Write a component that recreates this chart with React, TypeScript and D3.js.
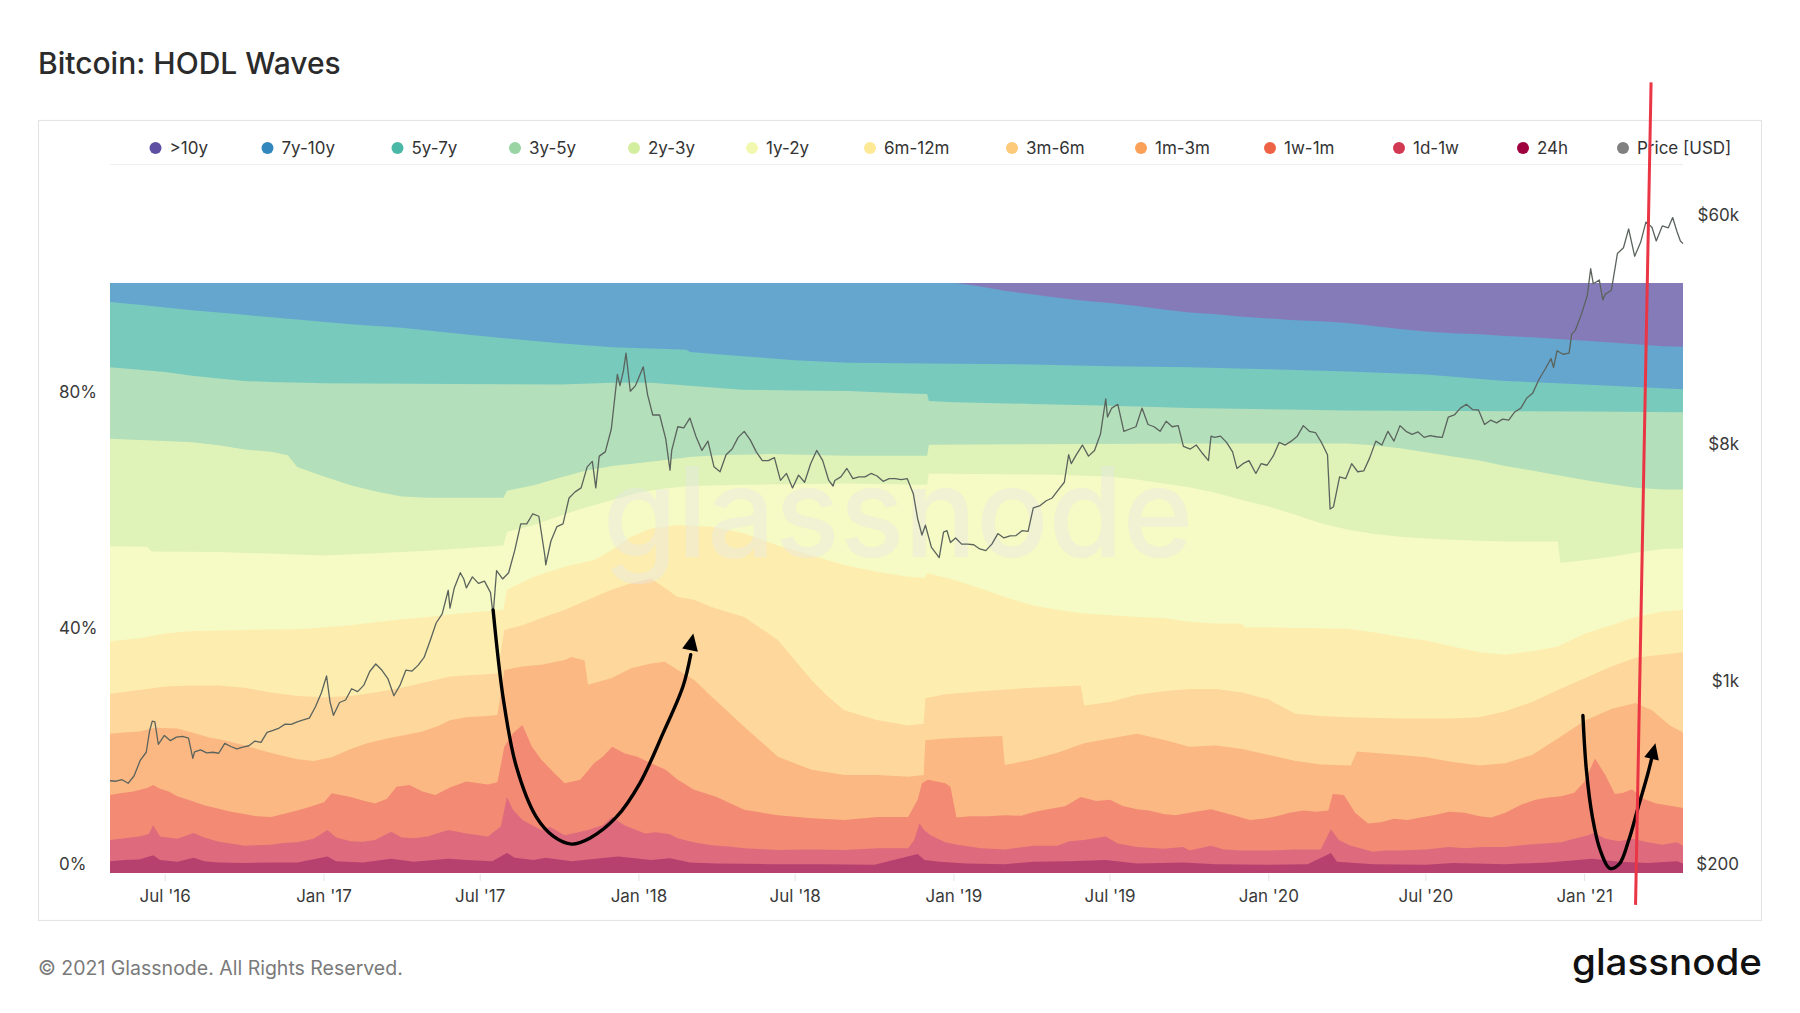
import React from "react";
import * as d3 from "d3";

type Pt = [string, number];

// ---------- DATA ----------
const categories = [">10y", "7y-10y", "5y-7y", "3y-5y", "2y-3y", "1y-2y", "6m-12m", "3m-6m", "1m-3m", "1w-1m", "1d-1w", "24h"];
const seriesColors = ["#5e4fa2", "#3288bd", "#4bb8a7", "#99d4a4", "#d4ee9f", "#f3f8b0", "#fce895", "#fcca7a", "#faa058", "#ee6346", "#d33853", "#9e023f"];
const priceName = "Price [USD]";
const priceColor = "#808080";

// upper edge (cumulative supply share, %) of each age band
const edge10y: Pt[] = [["2016-04-28", 100], ["2021-04-25", 100]];

const edge7y10y: Pt[] = [["2016-04-28", 100], ["2019-01-03", 100], ["2019-02-01", 99.4], ["2019-03-01", 98.7], ["2019-04-01", 98.1], ["2019-05-01", 97.5], ["2019-06-01", 97.0], ["2019-07-01", 96.6], ["2019-08-01", 96.1], ["2019-09-01", 95.5], ["2019-10-01", 95.0], ["2019-11-01", 94.7], ["2019-12-01", 94.3], ["2020-01-01", 94.0], ["2020-02-01", 93.7], ["2020-03-01", 93.5], ["2020-04-01", 93.2], ["2020-05-01", 92.7], ["2020-06-01", 92.2], ["2020-07-01", 91.8], ["2020-08-01", 91.5], ["2020-09-01", 91.3], ["2020-10-01", 91.0], ["2020-11-01", 90.8], ["2020-12-01", 90.5], ["2021-01-01", 90.2], ["2021-02-01", 89.9], ["2021-03-01", 89.6], ["2021-04-01", 89.3], ["2021-04-25", 89.2]];

const edge5y7y: Pt[] = [["2016-04-28", 96.8], ["2016-06-01", 96.3], ["2016-08-01", 95.4], ["2016-10-01", 94.6], ["2016-12-01", 93.8], ["2017-02-01", 93.0], ["2017-04-01", 92.4], ["2017-06-01", 91.5], ["2017-08-01", 90.6], ["2017-10-01", 89.8], ["2017-12-01", 89.1], ["2018-02-01", 88.8], ["2018-02-25", 88.7], ["2018-03-01", 88.3], ["2018-05-01", 87.6], ["2018-07-01", 86.9], ["2018-09-01", 86.5], ["2018-11-01", 86.4], ["2019-01-01", 86.3], ["2019-04-01", 86.2], ["2019-07-01", 85.9], ["2019-10-01", 85.7], ["2020-01-01", 85.4], ["2020-04-01", 85.0], ["2020-07-01", 84.5], ["2020-10-01", 83.4], ["2021-01-01", 82.8], ["2021-04-25", 82.0]];

const edge3y5y: Pt[] = [["2016-04-28", 85.7], ["2016-06-01", 85.3], ["2016-07-01", 84.9], ["2016-08-01", 84.3], ["2016-09-01", 83.8], ["2016-10-01", 83.4], ["2016-11-01", 83.2], ["2017-01-01", 83.0], ["2017-06-01", 82.9], ["2017-10-01", 82.8], ["2017-12-01", 83.1], ["2018-01-15", 83.1], ["2018-03-01", 82.6], ["2018-05-01", 81.9], ["2018-07-01", 81.8], ["2018-09-01", 81.7], ["2018-11-01", 81.3], ["2018-12-01", 81.2], ["2018-12-03", 80.0], ["2019-01-01", 79.8], ["2019-04-01", 79.5], ["2019-07-01", 79.2], ["2019-10-01", 78.8], ["2020-01-01", 78.6], ["2020-04-01", 78.4], ["2020-08-01", 78.3], ["2021-01-01", 78.2], ["2021-04-25", 78.1]];

const edge2y3y: Pt[] = [["2016-04-28", 73.6], ["2016-06-01", 73.4], ["2016-07-01", 73.2], ["2016-08-01", 73.0], ["2016-09-01", 72.5], ["2016-10-01", 71.8], ["2016-11-01", 71.4], ["2016-11-20", 70.8], ["2016-12-01", 68.8], ["2017-01-01", 67.2], ["2017-02-01", 65.7], ["2017-03-01", 64.7], ["2017-04-01", 63.8], ["2017-05-01", 63.6], ["2017-07-28", 63.6], ["2017-08-01", 64.8], ["2017-09-01", 65.7], ["2017-10-01", 67.0], ["2017-11-01", 68.2], ["2017-12-01", 69.0], ["2018-01-01", 69.5], ["2018-02-01", 70.0], ["2018-03-01", 70.5], ["2018-04-01", 70.8], ["2018-06-01", 71.0], ["2018-09-01", 70.7], ["2018-12-01", 70.7], ["2018-12-03", 72.6], ["2019-06-01", 72.7], ["2019-10-01", 72.8], ["2020-04-01", 72.8], ["2020-05-01", 72.5], ["2020-06-01", 72.0], ["2020-07-01", 71.3], ["2020-08-01", 70.6], ["2020-09-01", 69.9], ["2020-10-01", 69.0], ["2020-11-01", 68.2], ["2020-12-01", 67.4], ["2021-01-01", 66.6], ["2021-02-01", 65.9], ["2021-03-01", 65.3], ["2021-04-01", 65.0], ["2021-04-25", 65.0]];

const edge1y2y: Pt[] = [["2016-04-28", 55.4], ["2016-06-10", 55.3], ["2016-06-15", 54.5], ["2016-09-01", 54.4], ["2016-12-01", 54.0], ["2017-01-01", 53.8], ["2017-03-01", 54.2], ["2017-05-01", 54.6], ["2017-07-28", 55.5], ["2017-08-01", 57.8], ["2017-09-01", 59.0], ["2017-10-01", 60.5], ["2017-11-01", 62.0], ["2017-12-01", 63.2], ["2018-01-01", 64.5], ["2018-02-01", 65.2], ["2018-03-01", 65.6], ["2018-05-01", 65.8], ["2018-09-01", 66.0], ["2018-12-01", 65.8], ["2018-12-03", 67.7], ["2019-03-01", 67.6], ["2019-05-01", 67.5], ["2019-07-01", 67.2], ["2019-08-01", 66.7], ["2019-09-01", 66.0], ["2019-10-01", 65.4], ["2019-11-01", 64.4], ["2019-12-01", 63.2], ["2020-01-01", 62.1], ["2020-02-01", 60.7], ["2020-03-01", 59.3], ["2020-04-01", 58.2], ["2020-05-01", 57.5], ["2020-06-01", 57.0], ["2020-07-01", 56.7], ["2020-08-01", 56.5], ["2020-09-01", 56.3], ["2020-10-01", 56.2], ["2020-12-01", 56.2], ["2020-12-04", 52.6], ["2021-01-01", 53.0], ["2021-02-01", 53.6], ["2021-03-01", 54.3], ["2021-04-01", 54.9], ["2021-04-25", 55.0]];

const edge6m12m: Pt[] = [["2016-04-28", 39.3], ["2016-06-01", 39.8], ["2016-07-01", 40.6], ["2016-08-01", 41.0], ["2016-10-01", 41.2], ["2016-12-01", 41.3], ["2017-01-01", 41.6], ["2017-02-01", 42.0], ["2017-03-01", 42.5], ["2017-04-01", 43.0], ["2017-05-01", 43.4], ["2017-06-01", 43.9], ["2017-07-01", 44.3], ["2017-07-28", 44.6], ["2017-08-01", 48.0], ["2017-09-01", 50.2], ["2017-10-07", 51.9], ["2017-11-11", 53.1], ["2017-11-30", 54.7], ["2017-12-23", 57.0], ["2018-01-15", 58.4], ["2018-02-15", 59.0], ["2018-03-26", 58.7], ["2018-05-03", 57.6], ["2018-06-11", 55.5], ["2018-07-20", 53.8], ["2018-08-01", 53.3], ["2018-08-27", 52.2], ["2018-10-05", 51.0], ["2018-11-09", 50.2], ["2018-11-28", 50.0], ["2018-12-01", 50.8], ["2019-01-01", 49.7], ["2019-02-01", 48.2], ["2019-03-01", 46.8], ["2019-04-01", 45.4], ["2019-05-01", 44.6], ["2019-06-01", 44.0], ["2019-07-01", 43.7], ["2019-08-01", 43.4], ["2019-09-01", 43.2], ["2019-10-01", 42.6], ["2019-11-01", 42.3], ["2019-12-01", 42.3], ["2019-12-04", 41.6], ["2020-01-01", 41.6], ["2020-04-01", 41.4], ["2020-05-01", 40.8], ["2020-06-01", 40.0], ["2020-07-01", 39.4], ["2020-08-01", 38.4], ["2020-09-01", 37.4], ["2020-10-01", 37.0], ["2020-11-01", 37.6], ["2020-12-01", 38.4], ["2021-01-01", 40.6], ["2021-02-01", 42.0], ["2021-03-01", 43.4], ["2021-04-01", 44.3], ["2021-04-25", 44.6]];

const edge3m6m: Pt[] = [["2016-04-28", 30.4], ["2016-06-01", 31.0], ["2016-07-01", 31.6], ["2016-08-01", 31.8], ["2016-09-01", 31.8], ["2016-10-01", 31.4], ["2016-11-01", 30.6], ["2016-12-01", 30.0], ["2017-01-01", 29.8], ["2017-02-01", 30.0], ["2017-03-01", 30.6], ["2017-04-01", 31.4], ["2017-05-01", 32.4], ["2017-05-27", 33.3], ["2017-07-21", 33.8], ["2017-07-29", 41.2], ["2017-08-19", 42.0], ["2017-09-10", 43.2], ["2017-10-07", 44.6], ["2017-11-03", 46.3], ["2017-11-30", 48.0], ["2017-12-23", 49.1], ["2018-01-15", 49.9], ["2018-01-31", 48.3], ["2018-02-15", 46.8], ["2018-03-06", 46.3], ["2018-03-26", 45.1], ["2018-05-03", 43.4], ["2018-06-11", 39.5], ["2018-07-20", 32.7], ["2018-08-08", 29.9], ["2018-08-27", 27.6], ["2018-10-05", 25.9], ["2018-11-09", 25.0], ["2018-11-27", 25.3], ["2018-11-29", 29.6], ["2018-12-22", 30.3], ["2019-02-01", 30.8], ["2019-04-01", 31.4], ["2019-05-28", 31.8], ["2019-06-01", 28.4], ["2019-07-01", 29.0], ["2019-08-01", 30.2], ["2019-09-01", 30.8], ["2019-10-01", 31.2], ["2019-11-01", 31.2], ["2019-12-01", 30.6], ["2020-01-01", 29.4], ["2020-02-01", 27.0], ["2020-03-01", 26.6], ["2020-04-01", 26.4], ["2020-06-01", 26.2], ["2020-08-01", 26.2], ["2020-09-01", 26.4], ["2020-10-01", 27.4], ["2020-11-01", 29.0], ["2020-12-01", 31.0], ["2021-01-01", 33.0], ["2021-02-01", 35.0], ["2021-03-01", 36.5], ["2021-04-25", 37.4]];

const edge1m3m: Pt[] = [["2016-04-28", 23.6], ["2016-05-15", 23.8], ["2016-06-01", 24.0], ["2016-06-20", 24.6], ["2016-07-15", 24.5], ["2016-08-01", 23.8], ["2016-08-20", 23.0], ["2016-09-10", 22.4], ["2016-10-01", 21.6], ["2016-10-20", 20.8], ["2016-11-10", 20.0], ["2016-12-01", 19.3], ["2016-12-20", 19.0], ["2017-01-10", 19.6], ["2017-02-01", 21.0], ["2017-02-20", 22.0], ["2017-03-15", 22.8], ["2017-04-05", 23.4], ["2017-04-25", 24.0], ["2017-05-15", 25.0], ["2017-05-27", 25.9], ["2017-06-15", 26.4], ["2017-07-10", 26.6], ["2017-07-21", 26.8], ["2017-07-29", 34.4], ["2017-08-19", 35.0], ["2017-09-10", 35.3], ["2017-10-07", 36.1], ["2017-10-15", 36.6], ["2017-10-30", 36.0], ["2017-11-03", 31.9], ["2017-11-30", 33.0], ["2017-12-23", 34.7], ["2018-01-15", 35.5], ["2018-01-31", 35.8], ["2018-02-15", 34.4], ["2018-03-06", 32.7], ["2018-03-26", 29.9], ["2018-05-03", 24.8], ["2018-06-11", 19.7], ["2018-07-20", 17.5], ["2018-08-27", 16.6], ["2018-10-05", 16.6], ["2018-11-09", 16.3], ["2018-11-27", 16.6], ["2018-11-29", 22.5], ["2018-12-22", 22.8], ["2019-01-20", 23.0], ["2019-02-26", 23.2], ["2019-03-01", 18.3], ["2019-04-01", 19.2], ["2019-05-01", 20.4], ["2019-06-01", 22.0], ["2019-07-01", 22.8], ["2019-08-01", 23.6], ["2019-09-01", 22.6], ["2019-10-01", 21.4], ["2019-11-01", 21.6], ["2019-12-01", 21.0], ["2020-01-01", 20.0], ["2020-02-01", 19.0], ["2020-03-01", 18.4], ["2020-04-05", 18.2], ["2020-04-12", 20.6], ["2020-06-01", 20.0], ["2020-07-01", 19.6], ["2020-08-01", 18.8], ["2020-09-01", 18.2], ["2020-10-01", 18.6], ["2020-11-01", 20.0], ["2020-12-01", 22.8], ["2021-01-01", 25.8], ["2021-02-01", 27.8], ["2021-03-01", 28.8], ["2021-03-20", 27.6], ["2021-04-10", 25.0], ["2021-04-25", 23.8]];

const edge1w1m: Pt[] = [["2016-04-28", 13.2], ["2016-05-10", 13.5], ["2016-05-25", 13.8], ["2016-06-10", 14.4], ["2016-06-17", 14.9], ["2016-06-25", 14.3], ["2016-07-05", 13.8], ["2016-07-15", 13.0], ["2016-08-01", 12.2], ["2016-08-15", 11.5], ["2016-09-01", 10.9], ["2016-09-15", 10.4], ["2016-10-01", 10.0], ["2016-10-15", 9.6], ["2016-11-01", 9.5], ["2016-11-15", 10.0], ["2016-12-01", 10.6], ["2016-12-15", 11.2], ["2017-01-01", 12.0], ["2017-01-10", 13.5], ["2017-01-20", 13.2], ["2017-02-01", 12.9], ["2017-02-15", 12.3], ["2017-03-01", 11.8], ["2017-03-15", 12.6], ["2017-03-26", 14.6], ["2017-04-10", 14.9], ["2017-04-25", 13.8], ["2017-05-10", 13.2], ["2017-05-27", 14.5], ["2017-06-15", 15.5], ["2017-07-10", 15.0], ["2017-07-21", 15.4], ["2017-07-29", 21.4], ["2017-08-08", 23.7], ["2017-08-19", 25.1], ["2017-08-30", 21.4], ["2017-09-10", 19.2], ["2017-09-25", 16.9], ["2017-10-07", 15.2], ["2017-10-25", 15.8], ["2017-11-10", 18.6], ["2017-11-20", 19.7], ["2017-12-01", 21.4], ["2017-12-15", 20.3], ["2017-12-30", 19.7], ["2018-01-15", 18.6], ["2018-02-01", 17.5], ["2018-02-15", 15.8], ["2018-03-06", 14.1], ["2018-04-01", 12.9], ["2018-05-03", 10.7], ["2018-06-11", 9.8], ["2018-07-20", 9.3], ["2018-08-27", 9.0], ["2018-10-05", 9.5], ["2018-11-09", 9.5], ["2018-11-20", 12.4], ["2018-11-25", 15.2], ["2018-12-02", 15.8], ["2018-12-22", 15.2], ["2018-12-28", 14.6], ["2019-01-04", 9.4], ["2019-01-20", 9.6], ["2019-02-10", 9.6], ["2019-03-01", 9.8], ["2019-03-20", 9.7], ["2019-04-05", 10.4], ["2019-04-20", 10.8], ["2019-05-10", 11.3], ["2019-05-28", 12.9], ["2019-06-15", 12.2], ["2019-07-01", 12.4], ["2019-07-15", 11.4], ["2019-08-01", 10.8], ["2019-08-15", 10.6], ["2019-09-01", 10.0], ["2019-09-15", 9.8], ["2019-10-01", 10.2], ["2019-10-26", 10.8], ["2019-11-10", 10.2], ["2019-11-25", 9.6], ["2019-12-10", 9.0], ["2019-12-25", 9.2], ["2020-01-10", 9.6], ["2020-01-25", 10.2], ["2020-02-10", 10.6], ["2020-02-25", 10.4], ["2020-03-10", 10.6], ["2020-03-15", 13.4], ["2020-03-28", 13.2], ["2020-04-10", 10.2], ["2020-04-25", 8.4], ["2020-05-10", 8.6], ["2020-05-25", 9.2], ["2020-06-10", 9.0], ["2020-06-25", 9.4], ["2020-07-10", 9.8], ["2020-07-28", 10.4], ["2020-08-15", 10.2], ["2020-09-01", 9.6], ["2020-09-15", 9.4], ["2020-10-01", 10.2], ["2020-10-20", 11.6], ["2020-11-05", 12.4], ["2020-11-20", 12.8], ["2020-12-05", 13.0], ["2020-12-20", 13.6], ["2021-01-01", 15.5], ["2021-01-13", 19.4], ["2021-01-25", 16.6], ["2021-02-05", 13.4], ["2021-02-15", 13.6], ["2021-02-25", 14.2], ["2021-03-10", 12.6], ["2021-03-25", 11.8], ["2021-04-10", 11.4], ["2021-04-25", 11.0]];

const edge1d1w: Pt[] = [["2016-04-28", 5.6], ["2016-05-15", 5.9], ["2016-06-01", 6.2], ["2016-06-12", 6.6], ["2016-06-17", 8.1], ["2016-06-25", 6.2], ["2016-07-15", 5.8], ["2016-08-03", 6.8], ["2016-08-15", 6.0], ["2016-09-01", 5.3], ["2016-09-15", 5.0], ["2016-10-01", 4.6], ["2016-10-15", 4.7], ["2016-11-01", 4.8], ["2016-11-15", 5.1], ["2016-12-01", 5.2], ["2016-12-20", 5.8], ["2017-01-05", 7.3], ["2017-01-15", 6.0], ["2017-02-01", 5.4], ["2017-02-15", 5.3], ["2017-03-01", 5.6], ["2017-03-20", 7.0], ["2017-04-01", 6.0], ["2017-04-15", 5.9], ["2017-05-01", 6.2], ["2017-05-25", 7.3], ["2017-06-15", 6.7], ["2017-07-10", 6.2], ["2017-07-25", 7.9], ["2017-08-01", 12.9], ["2017-08-08", 10.7], ["2017-08-19", 9.0], ["2017-09-10", 7.3], ["2017-09-20", 7.8], ["2017-10-07", 6.4], ["2017-11-03", 7.3], ["2017-11-20", 8.1], ["2017-12-01", 9.5], ["2017-12-15", 8.1], ["2018-01-08", 6.7], ["2018-01-20", 6.9], ["2018-02-05", 6.6], ["2018-02-15", 5.9], ["2018-03-05", 5.2], ["2018-03-26", 4.7], ["2018-04-15", 4.5], ["2018-05-03", 4.2], ["2018-06-11", 3.9], ["2018-07-20", 4.0], ["2018-08-27", 3.9], ["2018-10-05", 4.2], ["2018-11-09", 4.2], ["2018-11-16", 5.6], ["2018-11-22", 8.4], ["2018-11-28", 7.2], ["2018-12-05", 6.4], ["2018-12-22", 5.2], ["2019-01-05", 4.8], ["2019-02-01", 4.2], ["2019-03-01", 4.0], ["2019-04-03", 4.6], ["2019-05-01", 4.6], ["2019-05-15", 5.4], ["2019-06-01", 5.6], ["2019-06-26", 6.2], ["2019-07-10", 5.0], ["2019-08-01", 4.4], ["2019-09-01", 4.1], ["2019-09-24", 4.4], ["2019-10-01", 3.8], ["2019-10-26", 4.6], ["2019-11-10", 4.0], ["2019-12-01", 3.8], ["2020-01-01", 3.8], ["2020-02-01", 4.0], ["2020-03-01", 4.0], ["2020-03-13", 7.4], ["2020-03-22", 5.6], ["2020-04-05", 4.6], ["2020-05-01", 3.6], ["2020-05-15", 3.8], ["2020-06-01", 3.8], ["2020-07-01", 4.0], ["2020-07-28", 4.4], ["2020-08-15", 4.2], ["2020-09-05", 4.4], ["2020-10-01", 4.4], ["2020-10-25", 4.8], ["2020-11-15", 5.0], ["2020-12-05", 5.2], ["2020-12-20", 5.8], ["2021-01-05", 6.4], ["2021-01-12", 6.8], ["2021-01-25", 5.8], ["2021-02-10", 5.4], ["2021-02-25", 5.8], ["2021-03-15", 5.2], ["2021-04-01", 4.8], ["2021-04-18", 5.2], ["2021-04-25", 4.6]];

const edge24h: Pt[] = [["2016-04-28", 2.0], ["2016-05-15", 2.2], ["2016-06-01", 2.3], ["2016-06-17", 3.0], ["2016-06-25", 2.2], ["2016-07-15", 1.9], ["2016-08-03", 2.6], ["2016-08-15", 2.0], ["2016-09-01", 1.8], ["2016-10-01", 1.7], ["2016-11-01", 1.8], ["2016-12-01", 1.8], ["2017-01-05", 2.8], ["2017-01-15", 2.0], ["2017-02-15", 1.8], ["2017-03-20", 2.4], ["2017-04-15", 1.9], ["2017-05-25", 2.4], ["2017-06-15", 2.2], ["2017-07-15", 2.0], ["2017-08-01", 3.4], ["2017-08-10", 2.6], ["2017-09-01", 2.2], ["2017-09-15", 2.6], ["2017-10-15", 2.0], ["2017-11-12", 2.4], ["2017-12-08", 2.8], ["2017-12-22", 2.6], ["2018-01-15", 2.2], ["2018-02-06", 2.5], ["2018-03-01", 1.8], ["2018-04-01", 1.6], ["2018-06-01", 1.5], ["2018-08-01", 1.5], ["2018-10-01", 1.4], ["2018-11-20", 3.2], ["2018-11-28", 2.2], ["2018-12-15", 1.9], ["2019-01-15", 1.6], ["2019-03-01", 1.5], ["2019-04-03", 1.9], ["2019-05-15", 2.0], ["2019-06-26", 2.2], ["2019-08-01", 1.6], ["2019-09-24", 1.8], ["2019-11-01", 1.5], ["2020-01-01", 1.4], ["2020-02-15", 1.5], ["2020-03-13", 3.4], ["2020-03-20", 1.9], ["2020-05-01", 1.5], ["2020-07-01", 1.4], ["2020-08-01", 1.7], ["2020-10-01", 1.5], ["2020-11-20", 1.8], ["2021-01-10", 2.4], ["2021-02-10", 1.9], ["2021-03-15", 1.7], ["2021-04-18", 2.0], ["2021-04-25", 1.6]];

const priceUSD: Pt[] = [["2016-04-28", 450], ["2016-05-05", 448], ["2016-05-12", 454], ["2016-05-19", 440], ["2016-05-26", 470], ["2016-06-02", 538], ["2016-06-09", 578], ["2016-06-13", 700], ["2016-06-16", 760], ["2016-06-19", 755], ["2016-06-23", 620], ["2016-06-30", 670], ["2016-07-07", 640], ["2016-07-14", 660], ["2016-07-21", 665], ["2016-07-28", 655], ["2016-08-02", 548], ["2016-08-04", 580], ["2016-08-11", 590], ["2016-08-18", 575], ["2016-08-25", 578], ["2016-09-01", 573], ["2016-09-08", 625], ["2016-09-15", 608], ["2016-09-22", 595], ["2016-09-29", 605], ["2016-10-06", 612], ["2016-10-13", 638], ["2016-10-20", 630], ["2016-10-27", 688], ["2016-11-03", 700], ["2016-11-10", 715], ["2016-11-17", 740], ["2016-11-24", 738], ["2016-12-01", 755], ["2016-12-08", 768], ["2016-12-15", 780], ["2016-12-22", 860], ["2016-12-29", 975], ["2017-01-04", 1130], ["2017-01-08", 900], ["2017-01-12", 800], ["2017-01-19", 895], ["2017-01-26", 915], ["2017-02-02", 1010], ["2017-02-09", 985], ["2017-02-16", 1040], ["2017-02-23", 1175], ["2017-03-02", 1255], ["2017-03-09", 1190], ["2017-03-16", 1105], ["2017-03-23", 950], ["2017-03-30", 1040], ["2017-04-06", 1190], ["2017-04-13", 1180], ["2017-04-20", 1240], ["2017-04-27", 1330], ["2017-05-04", 1540], ["2017-05-11", 1800], ["2017-05-18", 1950], ["2017-05-25", 2400], ["2017-05-27", 2050], ["2017-06-01", 2450], ["2017-06-08", 2800], ["2017-06-12", 2650], ["2017-06-15", 2450], ["2017-06-22", 2700], ["2017-06-29", 2550], ["2017-07-06", 2600], ["2017-07-13", 2350], ["2017-07-16", 1930], ["2017-07-20", 2850], ["2017-07-27", 2650], ["2017-08-03", 2800], ["2017-08-10", 3400], ["2017-08-17", 4300], ["2017-08-24", 4300], ["2017-08-31", 4700], ["2017-09-07", 4600], ["2017-09-14", 3250], ["2017-09-15", 3000], ["2017-09-21", 3700], ["2017-09-28", 4200], ["2017-10-05", 4300], ["2017-10-12", 5400], ["2017-10-19", 5700], ["2017-10-26", 5900], ["2017-11-02", 7100], ["2017-11-08", 7450], ["2017-11-12", 5900], ["2017-11-16", 7800], ["2017-11-23", 8100], ["2017-11-30", 9900], ["2017-12-07", 16000], ["2017-12-10", 14500], ["2017-12-14", 16500], ["2017-12-17", 19300], ["2017-12-22", 13800], ["2017-12-28", 14500], ["2018-01-06", 17100], ["2018-01-11", 13400], ["2018-01-17", 11200], ["2018-01-25", 11200], ["2018-02-01", 9100], ["2018-02-06", 6900], ["2018-02-08", 8200], ["2018-02-15", 10100], ["2018-02-22", 10000], ["2018-03-01", 10900], ["2018-03-08", 9300], ["2018-03-15", 8200], ["2018-03-22", 8900], ["2018-03-29", 7100], ["2018-04-05", 6800], ["2018-04-12", 7900], ["2018-04-19", 8300], ["2018-04-26", 9200], ["2018-05-03", 9700], ["2018-05-10", 9000], ["2018-05-17", 8100], ["2018-05-24", 7500], ["2018-05-31", 7500], ["2018-06-07", 7700], ["2018-06-14", 6300], ["2018-06-21", 6700], ["2018-06-28", 5900], ["2018-07-05", 6600], ["2018-07-12", 6200], ["2018-07-19", 7300], ["2018-07-26", 8200], ["2018-08-02", 7500], ["2018-08-09", 6300], ["2018-08-14", 6000], ["2018-08-16", 6300], ["2018-08-23", 6500], ["2018-08-30", 7000], ["2018-09-06", 6400], ["2018-09-13", 6500], ["2018-09-20", 6500], ["2018-09-27", 6700], ["2018-10-04", 6550], ["2018-10-11", 6250], ["2018-10-18", 6400], ["2018-10-25", 6400], ["2018-11-01", 6350], ["2018-11-08", 6400], ["2018-11-15", 5600], ["2018-11-20", 4500], ["2018-11-25", 3900], ["2018-11-29", 4250], ["2018-12-06", 3500], ["2018-12-15", 3200], ["2018-12-20", 4000], ["2018-12-24", 4050], ["2018-12-28", 3650], ["2019-01-03", 3800], ["2019-01-10", 3600], ["2019-01-17", 3600], ["2019-01-24", 3580], ["2019-01-31", 3450], ["2019-02-07", 3400], ["2019-02-14", 3600], ["2019-02-21", 3950], ["2019-02-28", 3800], ["2019-03-07", 3870], ["2019-03-14", 3880], ["2019-03-21", 4050], ["2019-03-28", 4030], ["2019-04-03", 4950], ["2019-04-11", 5050], ["2019-04-18", 5270], ["2019-04-25", 5400], ["2019-05-02", 5800], ["2019-05-09", 6200], ["2019-05-14", 7900], ["2019-05-17", 7300], ["2019-05-23", 7900], ["2019-05-30", 8600], ["2019-06-06", 7800], ["2019-06-13", 8200], ["2019-06-20", 9500], ["2019-06-26", 12900], ["2019-06-28", 11000], ["2019-07-03", 11900], ["2019-07-10", 12300], ["2019-07-17", 9700], ["2019-07-24", 9900], ["2019-07-31", 10100], ["2019-08-07", 11900], ["2019-08-14", 10300], ["2019-08-21", 10100], ["2019-08-28", 9700], ["2019-09-04", 10600], ["2019-09-11", 10100], ["2019-09-18", 10200], ["2019-09-24", 8500], ["2019-10-02", 8300], ["2019-10-09", 8600], ["2019-10-16", 8000], ["2019-10-23", 7500], ["2019-10-26", 9300], ["2019-10-30", 9200], ["2019-11-06", 9300], ["2019-11-13", 8800], ["2019-11-20", 8100], ["2019-11-25", 7000], ["2019-12-02", 7300], ["2019-12-09", 7500], ["2019-12-17", 6700], ["2019-12-23", 7300], ["2019-12-30", 7200], ["2020-01-06", 7800], ["2020-01-13", 8800], ["2020-01-20", 8600], ["2020-01-27", 8900], ["2020-02-03", 9300], ["2020-02-10", 10200], ["2020-02-17", 9700], ["2020-02-24", 9600], ["2020-03-02", 8800], ["2020-03-09", 7900], ["2020-03-12", 4900], ["2020-03-16", 5000], ["2020-03-23", 6500], ["2020-03-30", 6400], ["2020-04-06", 7300], ["2020-04-13", 6800], ["2020-04-20", 6850], ["2020-04-27", 7700], ["2020-05-04", 8900], ["2020-05-11", 8600], ["2020-05-18", 9700], ["2020-05-25", 8900], ["2020-06-01", 10200], ["2020-06-08", 9700], ["2020-06-15", 9450], ["2020-06-22", 9650], ["2020-06-29", 9200], ["2020-07-06", 9350], ["2020-07-13", 9250], ["2020-07-20", 9200], ["2020-07-27", 11000], ["2020-08-03", 11200], ["2020-08-10", 11900], ["2020-08-17", 12300], ["2020-08-24", 11750], ["2020-08-31", 11700], ["2020-09-07", 10300], ["2020-09-14", 10700], ["2020-09-21", 10450], ["2020-09-28", 10800], ["2020-10-05", 10700], ["2020-10-12", 11500], ["2020-10-19", 11900], ["2020-10-26", 13000], ["2020-11-02", 13600], ["2020-11-09", 15300], ["2020-11-16", 16700], ["2020-11-23", 18400], ["2020-11-26", 17000], ["2020-11-30", 19700], ["2020-12-07", 19100], ["2020-12-14", 19300], ["2020-12-17", 22800], ["2020-12-21", 23500], ["2020-12-28", 27000], ["2021-01-04", 31900], ["2021-01-08", 40500], ["2021-01-11", 35500], ["2021-01-18", 36700], ["2021-01-22", 30800], ["2021-01-25", 32400], ["2021-02-01", 33500], ["2021-02-08", 46300], ["2021-02-15", 48700], ["2021-02-21", 57500], ["2021-02-28", 45200], ["2021-03-07", 51200], ["2021-03-13", 61000], ["2021-03-20", 58300], ["2021-03-25", 51700], ["2021-04-01", 59000], ["2021-04-08", 58000], ["2021-04-13", 63500], ["2021-04-18", 56200], ["2021-04-22", 51700], ["2021-04-25", 50500]];

const xTickDates = ["2016-07-01", "2017-01-01", "2017-07-01", "2018-01-01", "2018-07-01", "2019-01-01", "2019-07-01", "2020-01-01", "2020-07-01", "2021-01-01"];
const pctTicks = [0, 40, 80];
const priceTicks = [200, 1000, 8000, 60000];
const priceTickLabels = ["$200", "$1k", "$8k", "$60k"];

// hand-drawn annotations (in data space: date, % of supply)
const arrowA: Pt[] = [["2017-07-16", 44.6], ["2017-07-28", 29.3], ["2017-08-12", 18.0], ["2017-09-04", 9.5], ["2017-09-24", 6.2], ["2017-10-15", 4.9], ["2017-11-05", 5.9], ["2017-12-06", 9.5], ["2018-01-02", 15.2], ["2018-01-29", 23.7], ["2018-02-21", 31.6], ["2018-03-02", 37.0], ["2018-03-05", 40.6]];
const arrowB: Pt[] = [["2020-12-30", 26.7], ["2021-01-03", 17.5], ["2021-01-10", 9.5], ["2021-01-19", 3.9], ["2021-01-30", 0.8], ["2021-02-10", 1.5], ["2021-02-21", 5.5], ["2021-03-04", 11.1], ["2021-03-15", 16.7], ["2021-03-20", 19.6], ["2021-03-24", 22.0]];
const redMarker: Pt[] = [["2021-03-19", 134], ["2021-03-01", -5.4]];

// ---------- LAYOUT ----------
const W = 1800, H = 1013;
const PL = 110, PR = 1683, P0 = 873, P100 = 283;
const legendX = [155.5, 267.5, 397.5, 515, 634, 752, 870, 1012, 1141, 1270, 1399, 1523, 1623];
const FONT = "Inter, 'Noto Sans', 'DejaVu Sans', sans-serif";

const parse = d3.utcParse("%Y-%m-%d");
const pd = (s: string) => parse(s) as Date;

export default function App() {
  const x = d3.scaleUtc().domain([pd("2016-04-28"), pd("2021-04-25")]).range([PL, PR]);
  const yPct = d3.scaleLinear().domain([0, 100]).range([P0, P100]);
  const yPrice = d3.scaleLog().domain([200, 60000]).range([P0, 224]);

  const px = (d: Pt) => x(pd(d[0]));
  const edges = [edge10y, edge7y10y, edge5y7y, edge3y5y, edge2y3y, edge1y2y, edge6m12m, edge3m6m, edge1m3m, edge1w1m, edge1d1w, edge24h];
  const areaGen = d3.area<Pt>().x(px).y0(yPct(0)).y1((d) => yPct(d[1]));
  const priceLine = d3.line<Pt>().x(px).y((d) => yPrice(d[1]));
  const annLine = d3.line<Pt>().x(px).y((d) => yPct(d[1])).curve(d3.curveCatmullRom.alpha(0.5));
  const fmt = d3.utcFormat("%b '%y");

  const head = (pts: Pt[], L: number, w: number) => {
    const t = pts[pts.length - 1];
    const p = pts[pts.length - 3];
    const tx = px(t), ty = yPct(t[1]);
    const dx = tx - px(p), dy = ty - yPct(p[1]);
    const n = Math.hypot(dx, dy);
    const ux = dx / n, uy = dy / n;
    const bx = tx - ux * L, by = ty - uy * L;
    return `M${tx},${ty}L${bx - uy * w},${by + ux * w}L${bx + uy * w},${by - ux * w}Z`;
  };

  return (
    <div style={{ position: "absolute", left: 0, top: 0, width: W, height: H, background: "#fff" }}>
      <svg width={W} height={H} style={{ display: "block", fontFamily: FONT }}>
        <rect x={0} y={0} width={W} height={H} fill="#fff" />
        <text x={38} y={74} fontSize={30} fontWeight={500} fill="#2b2b2b">Bitcoin: HODL Waves</text>
        <rect x={38.5} y={120.5} width={1723} height={800} fill="none" stroke="#e4e4e4" strokeWidth={1.2} />

        {/* legend */}
        {categories.concat([priceName]).map((c, i) => (
          <g key={c}>
            <circle cx={legendX[i]} cy={148} r={6} fill={i < categories.length ? seriesColors[i] : priceColor} />
            <text x={legendX[i] + 14} y={154} fontSize={17} fill="#333">{c}</text>
          </g>
        ))}
        <line x1={PL} x2={PR} y1={164.5} y2={164.5} stroke="#eeeeee" strokeWidth={1.2} />

        {/* bands */}
        {edges.map((e, i) => (
          <path key={categories[i]} d={areaGen(e) as string} fill={d3.interpolateRgb("#ffffff", seriesColors[i])(0.75)} />
        ))}

        {/* watermark */}
        <text x={603} y={557} fontSize={125} fontWeight={500} fill="#e8e8e8" opacity={0.42} textLength={590} lengthAdjust="spacingAndGlyphs">glassnode</text>

        {/* price */}
        <path d={priceLine(priceUSD) as string} fill="none" stroke="#5b635d" strokeWidth={1.3} strokeLinejoin="round" />

        {/* x axis */}
        {xTickDates.map((t) => (
          <g key={t}>
            <line x1={x(pd(t))} x2={x(pd(t))} y1={P0 + 1} y2={P0 + 8} stroke="#e2e2e2" />
            <text x={x(pd(t))} y={902} fontSize={17} fill="#3a3a3a" textAnchor="middle">{fmt(pd(t))}</text>
          </g>
        ))}
        {/* left axis */}
        {pctTicks.map((v) => (
          <text key={v} x={59} y={yPct(v) - 3} fontSize={17} fill="#3a3a3a">{v}%</text>
        ))}
        {/* right axis */}
        {priceTicks.map((v, i) => (
          <text key={v} x={1739} y={yPrice(v) - 3} fontSize={17} fill="#3a3a3a" textAnchor="end">{priceTickLabels[i]}</text>
        ))}

        {/* annotations */}
        <path d={annLine(arrowA.slice(0, -1)) as string} fill="none" stroke="#000" strokeWidth={3.4} strokeLinecap="round" />
        <path d={head(arrowA, 17, 8)} fill="#000" />
        <path d={annLine(arrowB.slice(0, -1)) as string} fill="none" stroke="#000" strokeWidth={3.4} strokeLinecap="round" />
        <path d={head(arrowB, 16, 7.5)} fill="#000" />
        <line x1={px(redMarker[0])} y1={yPct(redMarker[0][1])} x2={px(redMarker[1])} y2={yPct(redMarker[1][1])} stroke="#ea3545" strokeWidth={3} />

        {/* footer */}
        <text x={38} y={975} fontSize={19.5} fill="#7a7a7a">© 2021 Glassnode. All Rights Reserved.</text>
        <text x={1572} y={975} fontSize={37} fontWeight={500} fill="#111" textLength={190} lengthAdjust="spacingAndGlyphs">glassnode</text>
      </svg>
    </div>
  );
}
